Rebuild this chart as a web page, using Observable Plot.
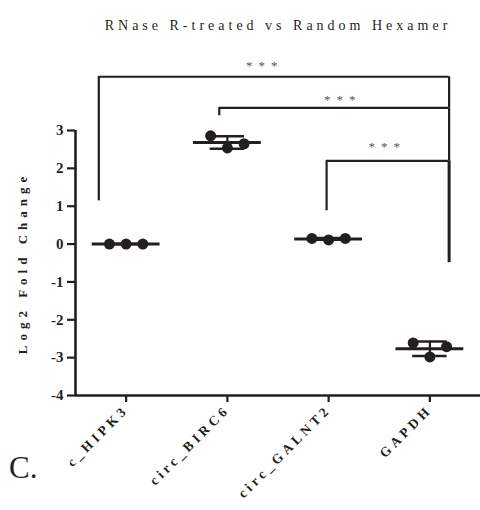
<!DOCTYPE html>
<html><head><meta charset="utf-8">
<script src="https://cdn.jsdelivr.net/npm/d3@7"></script>
<script src="https://cdn.jsdelivr.net/npm/@observablehq/plot@0.6"></script>
<style>
body{margin:0;background:#fff;}
#wrap{position:relative;width:480px;height:510px;overflow:hidden;}
#panel{position:absolute;left:0;top:448px;width:70px;height:62px;background:#fff;font-family:"Liberation Serif",serif;font-size:31px;color:#231f20;}
#panel span{position:absolute;left:9px;top:2px;}
</style></head><body><div id="wrap"><div id="chart"></div><div id="panel"><span>C.</span></div></div>
<script>
const categories = ["circ_HIPK3", "circ_BIRC6", "circ_GALNT2", "GAPDH"];
const hipk3 = [0, 0, 0];
const birc6 = [2.86, 2.54, 2.65];
const galnt2 = [0.15, 0.11, 0.15];
const gapdh = [-2.61, -2.98, -2.71];
const yTicks = [-4, -3, -2, -1, 0, 1, 2, 3];
const title = "RNase R-treated vs Random Hexamer";
const yLabel = "Log2 Fold Change";
// significance brackets (data units)
const bracketLeft = [-0.27, 0.92, 1.98];
const bracketRight = [3.19, 3.19, 3.19];
const bracketTop = [4.42, 3.6, 2.2];
const bracketLeftEnd = [1.14, 3.39, 0.88];
const bracketRightEnd = [3.6, 2.2, -0.49];
const bracketText = ["***", "***", "***"];
const bracketTextX = [1.37, 2.14, 2.58];
const bracketTextY = [4.71, 3.81, 2.57];

const ink = "#231f20";
const series = [hipk3, birc6, galnt2, gapdh];
const spread = 0.165;
const points = series.flatMap((vals, i) => vals.map((v, j) => ({x: i + (j - 1) * spread, y: v})));
const stats = series.map((vals, i) => {
  const m = d3.mean(vals), s = d3.deviation(vals) || 0;
  return {i, m, lo: m - s, hi: m + s};
});
const brackets = bracketTop.map((y, k) => ({
  x1: bracketLeft[k], x2: bracketRight[k], y, yl: bracketLeftEnd[k], yr: bracketRightEnd[k],
  t: bracketText[k], tx: bracketTextX[k], ty: bracketTextY[k], w: k === 2 ? 3 : 2.2
}));

const plot = Plot.plot({
  width: 480, height: 510,
  marginLeft: 75, marginRight: 0, marginTop: 130, marginBottom: 115,
  x: {domain: [-0.5, 3.5]},
  y: {domain: [-4, 3]},
  style: {fontFamily: "'Liberation Serif', serif", color: ink, background: "#fff", overflow: "visible"},
  marks: [
    // brackets
    Plot.ruleX(brackets, {x: "x1", y1: "yl", y2: "y", stroke: ink, strokeWidth: 2.2}),
    Plot.ruleX(brackets, {x: "x2", y1: "yr", y2: "y", stroke: ink, strokeWidth: "w"}),
    Plot.ruleY(brackets, {y: "y", x1: "x1", x2: "x2", stroke: ink, strokeWidth: 2.2}),
    Plot.text(brackets, {x: "tx", y: "ty", text: "t", fontSize: 13, fill: "#555"}),
    // axes lines
    Plot.ruleX([-0.5], {y1: -4, y2: 3, stroke: ink, strokeWidth: 2.6}),
    Plot.ruleY([-4], {x1: -0.5, x2: 3.5, stroke: ink, strokeWidth: 2.6}),
    Plot.axisY({ticks: yTicks, tickFormat: d => String(d).replace("\u2212", "-"), tickSize: 8, tickPadding: 4, strokeWidth: 2.2, fontSize: 15, fontWeight: "bold", label: null}),
    Plot.axisX({ticks: [0, 1, 2, 3], tickFormat: i => categories[i], tickRotate: -45, tickSize: 7, tickPadding: 5,
      strokeWidth: 2.2, fontSize: 13.5, fontWeight: "bold", label: null}),
    // mean & SD
    Plot.ruleY(stats, {y: "m", x1: d => d.i - 0.335, x2: d => d.i + 0.335, stroke: ink, strokeWidth: 3}),
    Plot.ruleX(stats, {x: "i", y1: "lo", y2: "hi", stroke: ink, strokeWidth: 2.2}),
    Plot.ruleY(stats, {y: "lo", x1: d => d.i - 0.17, x2: d => d.i + 0.17, stroke: ink, strokeWidth: 2.5}),
    Plot.ruleY(stats, {y: "hi", x1: d => d.i - 0.17, x2: d => d.i + 0.17, stroke: ink, strokeWidth: 2.5}),
    Plot.dot(points, {x: "x", y: "y", r: 5.5, fill: ink, stroke: "none"}),
    // title and y label
    Plot.text([title], {frameAnchor: "top", dy: -110, fontSize: 14, fill: ink}),
    Plot.text([yLabel], {frameAnchor: "left", textAnchor: "middle", dx: -53, rotate: -90, fontSize: 13, fontWeight: "bold", fill: ink})
  ]
});
document.getElementById("chart").appendChild(plot);
const svg = d3.select(plot);
svg.selectAll("text").each(function() {
  const t = this.textContent;
  let ls = null;
  if (t === title) ls = "4px";
  else if (t === yLabel) ls = "5px";
  else if (categories.includes(t)) ls = "3.8px";
  else if (t === "***") ls = "6px";
  if (ls) d3.select(this).style("letter-spacing", ls);
});
</script></body></html>
